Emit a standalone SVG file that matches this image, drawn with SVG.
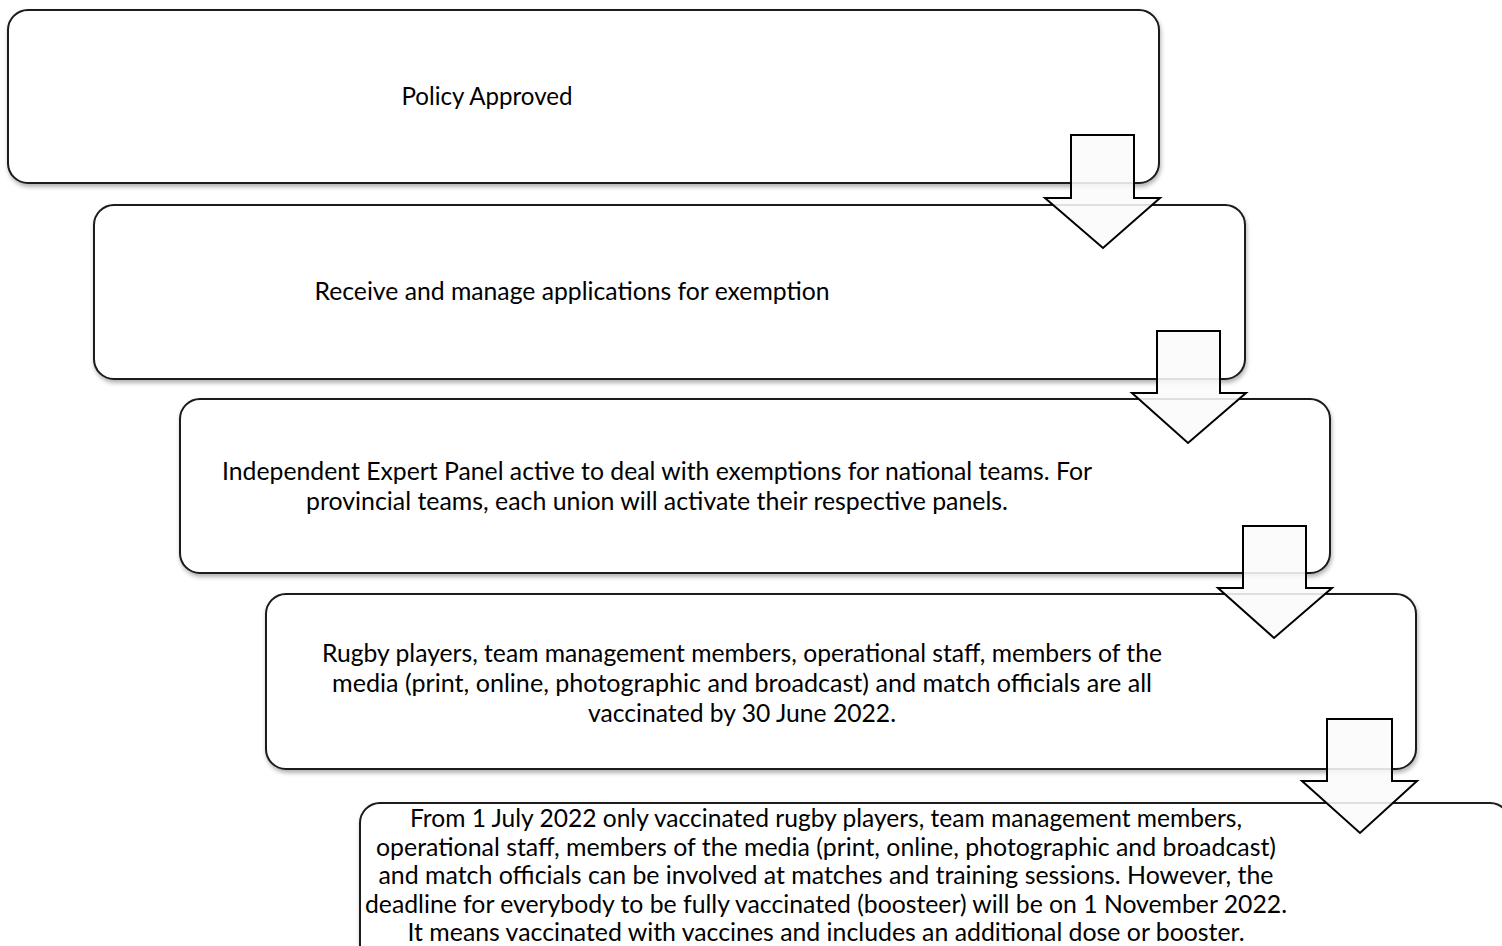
<svg xmlns="http://www.w3.org/2000/svg" width="1502" height="946" viewBox="0 0 1502 946">
<style>
.box{fill:#ffffff;stroke:#1a1a1a;stroke-width:2;filter:url(#sh)}
.arr{fill:#fafafa;fill-opacity:0.88;stroke:#000;stroke-width:2;stroke-linejoin:miter}
.t{font-family:Lato,"Liberation Sans",sans-serif;font-size:24.5px;fill:#000;text-anchor:middle}
</style>
<defs>
<filter id="sh" x="-5%" y="-10%" width="110%" height="125%">
<feDropShadow dx="1" dy="3" stdDeviation="2" flood-color="#000" flood-opacity="0.3"/>
</filter>
</defs>
<g id="node1">
<rect class="box" x="8" y="10" width="1151" height="173" rx="20"/>
<text class="t" x="487" y="105" textLength="171" lengthAdjust="spacingAndGlyphs">Policy Approved</text>
</g>
<g id="node2">
<rect class="box" x="94" y="205" width="1151" height="174" rx="20"/>
<text class="t" x="572" y="300" textLength="515" lengthAdjust="spacingAndGlyphs">Receive and manage applications for exemption</text>
</g>
<g id="node3">
<rect class="box" x="180" y="399" width="1150" height="174" rx="20"/>
<text class="t" x="657" y="480" textLength="870" lengthAdjust="spacingAndGlyphs">Independent Expert Panel active to deal with exemptions for national teams. For</text>
<text class="t" x="657" y="510" textLength="702" lengthAdjust="spacingAndGlyphs">provincial teams, each union will activate their respective panels.</text>
</g>
<g id="node4">
<rect class="box" x="266" y="594" width="1150" height="175" rx="20"/>
<text class="t" x="742" y="662" textLength="840" lengthAdjust="spacingAndGlyphs">Rugby players, team management members, operational staff, members of the</text>
<text class="t" x="742" y="692" textLength="820" lengthAdjust="spacingAndGlyphs">media (print, online, photographic and broadcast) and match officials are all</text>
<text class="t" x="742" y="722" textLength="308" lengthAdjust="spacingAndGlyphs">vaccinated by 30 June 2022.</text>
</g>
<g id="node5">
<rect class="box" x="360" y="803" width="1150" height="180" rx="20"/>
<text class="t" x="826" y="827" textLength="832" lengthAdjust="spacingAndGlyphs">From 1 July 2022 only vaccinated rugby players, team management members,</text>
<text class="t" x="826" y="855.5" textLength="900" lengthAdjust="spacingAndGlyphs">operational staff, members of the media (print, online, photographic and broadcast)</text>
<text class="t" x="826" y="884" textLength="895" lengthAdjust="spacingAndGlyphs">and match officials can be involved at matches and training sessions. However, the</text>
<text class="t" x="826" y="912.5" textLength="922" lengthAdjust="spacingAndGlyphs">deadline for everybody to be fully vaccinated (boosteer) will be on 1 November 2022.</text>
<text class="t" x="826" y="941" textLength="837" lengthAdjust="spacingAndGlyphs">It means vaccinated with vaccines and includes an additional dose or booster.</text>
</g>
<g id="connectors">
<path class="arr" d="M1071,135 H1134 V198 H1160 L1103,248 L1045,198 H1071 Z"/>
<path class="arr" d="M1157,331 H1220 V393 H1246 L1188,443 L1132,393 H1157 Z"/>
<path class="arr" d="M1243,526 H1306 V588 H1332 L1274,638 L1218,588 H1243 Z"/>
<path class="arr" d="M1327,719 H1392 V781 H1417 L1360,833 L1302,781 H1327 Z"/>
</g>
</svg>
